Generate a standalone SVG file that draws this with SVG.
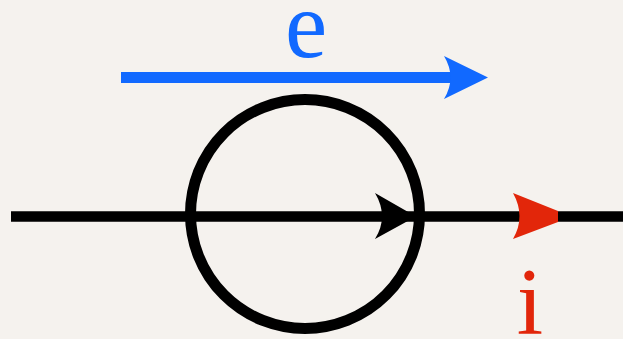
<svg xmlns="http://www.w3.org/2000/svg" width="623" height="339" viewBox="0 0 623 339">
  <style>
    .lbl { font-family: "Liberation Serif", "Times New Roman", serif; font-size: 95px; text-anchor: middle; }
  </style>
  <rect x="0" y="0" width="623" height="339" fill="#f5f2ee"/>
  <g id="connectors">
    <line x1="11" y1="216.5" x2="623" y2="216.5" stroke="#000" stroke-width="10.5"/>
    <line x1="121" y1="77.5" x2="452" y2="77.5" stroke="#1169ff" stroke-width="11"/>
    <path d="M488,77.5 L444,56 Q457,77.5 444,99 Z" fill="#1169ff"/>
    <path d="M416,216.5 L375,193 Q389,216.5 375,239 Z" fill="#000"/>
    <path d="M513,193 L558,211 L558,222 L513,239 Q526,216.5 513,193 Z" fill="#e2260a"/>
  </g>
  <g id="circle">
    <circle cx="305" cy="214" r="114.5" fill="none" stroke="#000" stroke-width="11"/>
  </g>
  <g id="label-e">
    <text class="lbl" x="306" y="57" fill="#1169ff">e</text>
  </g>
  <g id="label-i">
    <text class="lbl" x="530" y="334" fill="#e2260a">i</text>
  </g>
</svg>
